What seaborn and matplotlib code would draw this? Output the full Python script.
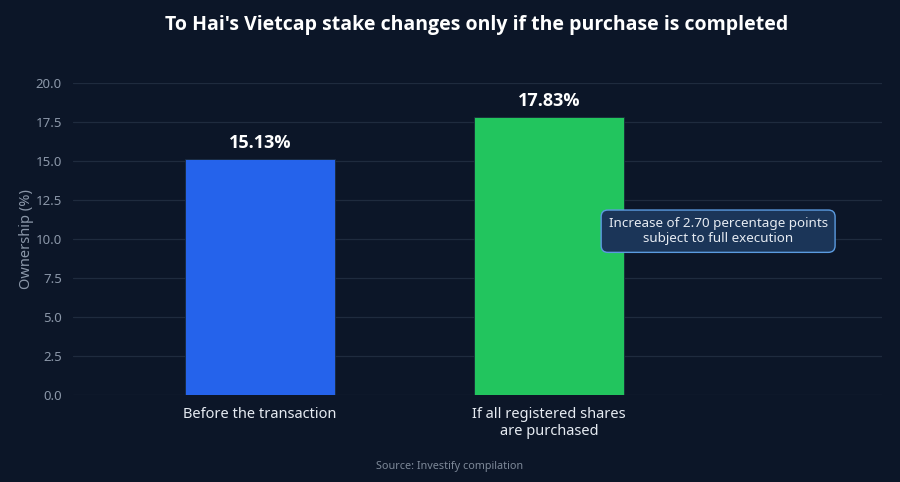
import matplotlib
matplotlib.use("Agg")
import matplotlib.pyplot as plt
import seaborn as sns
import pandas as pd

categories = ["Before the transaction", "If all registered shares\nare purchased"]
values = [15.13, 17.83]
value_labels = ["15.13%", "17.83%"]
colors = ["#2563eb", "#22c55e"]
yticks = [0.0, 2.5, 5.0, 7.5, 10.0, 12.5, 15.0, 17.5, 20.0]
title = "To Hai's Vietcap stake changes only if the purchase is completed"
annotation = "Increase of 2.70 percentage points\nsubject to full execution"
source = "Source: Investify compilation"

BG = "#0c1628"
BOLD = ["Open Sans", "DejaVu Sans"]
sns.set_theme(style="dark")
plt.rcParams["font.family"] = ["Noto Sans", "DejaVu Sans"]

df = pd.DataFrame({"cat": categories, "val": values})

fig = plt.figure(figsize=(9, 4.82), dpi=100, facecolor=BG)
ax = fig.add_axes([73/900, 1-395/482, (882-73)/900, (395-83)/482])
ax.set_facecolor(BG)

sns.barplot(data=df, x="cat", y="val", hue="cat", palette=colors, legend=False,
            width=0.52, ax=ax, saturation=1, zorder=3, edgecolor="#1a2a3a", linewidth=0.6)

ax.set_xlim(-0.647, 2.152)
ax.set_ylim(0, 20)
ax.set_yticks(yticks)
ax.set_yticklabels([f"{t:.1f}" for t in yticks], color="#8b97a8", fontsize=9.5)
ax.tick_params(axis="x", colors="#e6ebf2", labelsize=10.5, length=0, pad=9)
ax.tick_params(axis="y", length=0, pad=8)
ax.set_xticks([0, 1])
ax.set_xticklabels(categories, color="#e6ebf2", fontsize=10.5, linespacing=1.15)
ax.grid(axis="y", color="#1f2b3e", linewidth=0.9, zorder=0)
ax.grid(axis="x", visible=False)
for s in ax.spines.values():
    s.set_visible(False)
ax.set_xlabel("")
ax.set_ylabel("Ownership (%)", color="#8b97a8", fontsize=10.5, labelpad=1)

for i, (v, lab) in enumerate(zip(values, value_labels)):
    ax.annotate(lab, (i, v), xytext=(0, 5), textcoords="offset points",
                ha="center", va="bottom", color="white", fontsize=13,
                fontweight="bold", family=BOLD)

ax.text(1.585, 10.5, annotation, ha="center", va="center", color="#e6ebf2", fontsize=9.7,
        linespacing=1.15, zorder=5,
        bbox=dict(boxstyle="round,pad=0.55,rounding_size=0.5", facecolor="#1b3558",
                  edgecolor="#5b9be0", linewidth=1.0))

fig.text(477/900, 1-25/482, title, ha="center", va="center", color="white",
         fontsize=14, fontweight="bold", family=BOLD)
fig.text(0.5, 1-466/482, source, ha="center", va="center", color="#7d8898", fontsize=7.8)

fig.savefig("out.png", dpi=100, facecolor=BG)
